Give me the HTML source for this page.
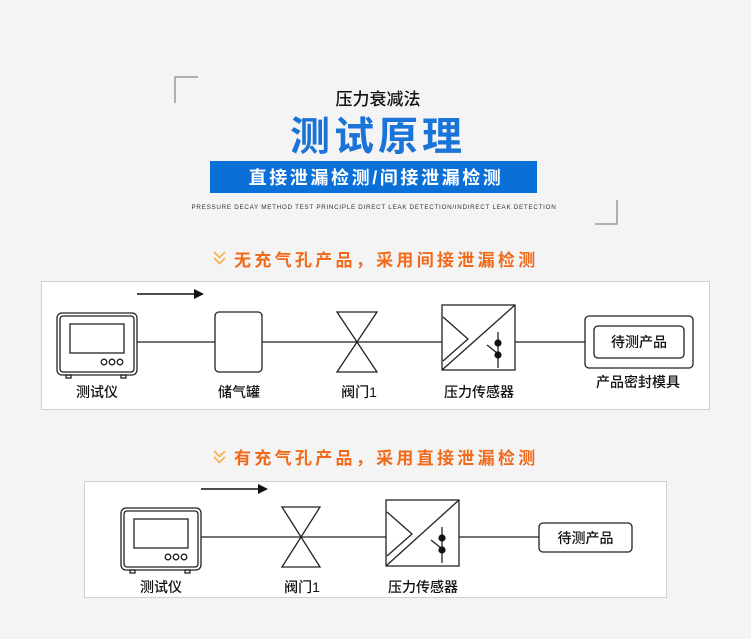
<!DOCTYPE html>
<html><head><meta charset="utf-8"><style>
html,body{margin:0;padding:0;background:#f4f4f4;}
svg{display:block;}
text{font-family:"Liberation Sans","Noto Sans CJK SC",sans-serif;}
</style></head><body>
<svg width="751" height="639" viewBox="0 0 751 639" xmlns="http://www.w3.org/2000/svg">
<rect width="751" height="639" fill="#f4f4f4"/>
<path d="M198 77 H175 V103" fill="none" stroke="#999" stroke-width="1.5"/>
<path d="M617 200 V224 H595" fill="none" stroke="#999" stroke-width="1.5"/>
<text x="378" y="105" font-size="17" font-weight="500" text-anchor="middle" fill="#111">压力衰减法</text>
<text x="378" y="150" font-size="40" font-weight="bold" text-anchor="middle" fill="#1a74d8" letter-spacing="4">测试原理</text>
<rect x="210" y="161" width="327" height="32" fill="#0b6fd8"/>
<text x="376" y="184" font-size="18" font-weight="bold" text-anchor="middle" fill="#fff" letter-spacing="2.6">直接泄漏检测/间接泄漏检测</text>
<text x="374" y="209" font-size="6.3" text-anchor="middle" fill="#333" letter-spacing="0.7">PRESSURE DECAY METHOD TEST PRINCIPLE DIRECT LEAK DETECTION/INDIRECT LEAK DETECTION</text>

<path d="M214 252 L219.5 257.5 L225 252 M214 258 L219.5 263.5 L225 258" fill="none" stroke="#f5b24a" stroke-width="1.6"/>
<text x="234" y="266" font-size="17" font-weight="bold" fill="#f06a1a" letter-spacing="3.3">无充气孔产品，采用间接泄漏检测</text>

<rect x="41.5" y="281.5" width="668" height="128" fill="#fff" stroke="#d0d0d0"/>
<line x1="137" y1="342" x2="585" y2="342" stroke="#222" stroke-width="1.3"/>
<line x1="137" y1="294" x2="196" y2="294" stroke="#111" stroke-width="1.5"/>
<polygon points="194,289 204,294 194,299" fill="#111"/>
<g fill="none" stroke="#222" stroke-width="1.3">
<rect x="57" y="313" width="80" height="62" rx="5"/>
<rect x="60" y="316" width="74" height="56" rx="3"/>
<rect x="70" y="324" width="54" height="29"/>
<circle cx="104" cy="362" r="2.8"/><circle cx="112" cy="362" r="2.8"/><circle cx="120" cy="362" r="2.8"/>
<rect x="66" y="375" width="5" height="3"/><rect x="121" y="375" width="5" height="3"/>
<rect x="215" y="312" width="47" height="60" rx="4" fill="#fff"/>
<path d="M337 312 H377 L337 372 H377 Z" fill="#fff"/>
<rect x="442" y="305" width="73" height="65" fill="#fff"/>
<path d="M442 370 L515 305 M443 317 L468 339 L443 361 M498 332 V368 M487 345 L497 353"/>
<rect x="585" y="316" width="108" height="52" rx="4" fill="#fff"/>
<rect x="594" y="326" width="90" height="32" rx="4"/>
</g>
<circle cx="498" cy="343" r="3.6" fill="#111"/><circle cx="498" cy="355" r="3.6" fill="#111"/>
<text x="639" y="347" font-size="14" font-weight="500" text-anchor="middle" fill="#111">待测产品</text>
<g font-size="14" font-weight="500" text-anchor="middle" fill="#111">
<text x="97" y="397">测试仪</text>
<text x="239" y="397">储气罐</text>
<text x="359" y="397">阀门1</text>
<text x="479" y="397">压力传感器</text>
<text x="638" y="387">产品密封模具</text>
</g>

<path d="M214 451 L219.5 456.5 L225 451 M214 457 L219.5 462.5 L225 457" fill="none" stroke="#f5b24a" stroke-width="1.6"/>
<text x="234" y="464" font-size="17" font-weight="bold" fill="#f06a1a" letter-spacing="3.3">有充气孔产品，采用直接泄漏检测</text>

<rect x="84.5" y="481.5" width="582" height="116" fill="#fff" stroke="#d0d0d0"/>
<line x1="201" y1="537" x2="540" y2="537" stroke="#222" stroke-width="1.3"/>
<line x1="201" y1="489" x2="260" y2="489" stroke="#111" stroke-width="1.5"/>
<polygon points="258,484 268,489 258,494" fill="#111"/>
<g fill="none" stroke="#222" stroke-width="1.3">
<rect x="121" y="508" width="80" height="62" rx="5" fill="#fff"/>
<rect x="124" y="511" width="74" height="56" rx="3"/>
<rect x="134" y="519" width="54" height="29"/>
<circle cx="168" cy="557" r="2.8"/><circle cx="176" cy="557" r="2.8"/><circle cx="184" cy="557" r="2.8"/>
<rect x="130" y="570" width="5" height="3"/><rect x="185" y="570" width="5" height="3"/>
<path d="M282 507 H320 L282 567 H320 Z" fill="#fff"/>
<rect x="386" y="500" width="73" height="66" fill="#fff"/>
<path d="M386 566 L459 500 M387 512 L412 534 L387 556 M442 527 V563 M431 540 L441 548"/>
<rect x="539" y="523" width="93" height="29" rx="4" fill="#fff"/>
</g>
<circle cx="442" cy="538" r="3.6" fill="#111"/><circle cx="442" cy="550" r="3.6" fill="#111"/>
<text x="585.5" y="543" font-size="14" font-weight="500" text-anchor="middle" fill="#111">待测产品</text>
<g font-size="14" font-weight="500" text-anchor="middle" fill="#111">
<text x="161" y="592">测试仪</text>
<text x="302" y="592">阀门1</text>
<text x="423" y="592">压力传感器</text>
</g>
</svg>
</body></html>
